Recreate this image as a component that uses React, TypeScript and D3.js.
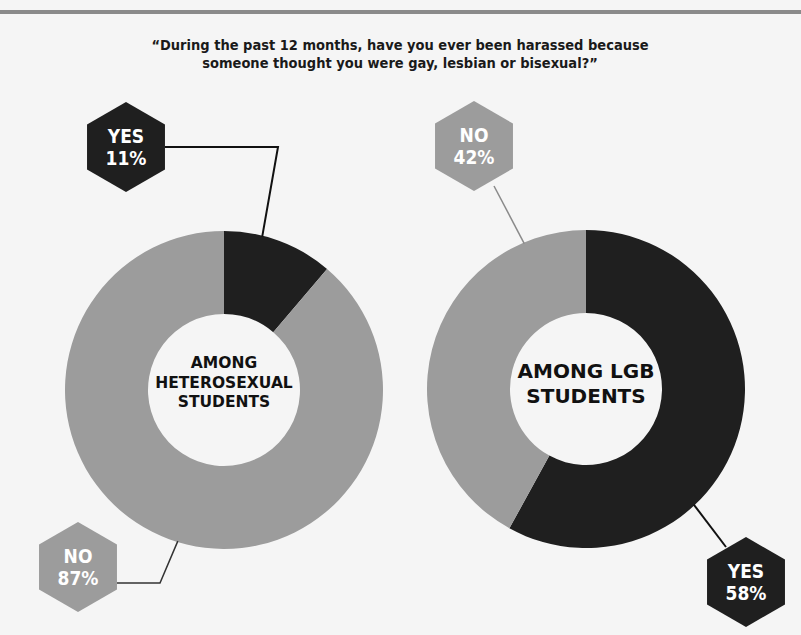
import React, { useRef, useEffect } from 'react';
import * as d3 from 'd3';

// Survey answers
const answers = ['YES', 'NO'];
const heteroValues = [11, 87];
const lgbValues = [58, 42];
const heteroLines = ['AMONG', 'HETEROSEXUAL', 'STUDENTS'];
const lgbLines = ['AMONG LGB', 'STUDENTS'];
const titleLines = [
  '\u201CDuring the past 12 months, have you ever been harassed because',
  'someone thought you were gay, lesbian or bisexual?\u201D',
];

const DARK = '#1f1f1f';
const GREY = '#9c9c9c';
const BG = '#f5f5f5';

const App: React.FC = () => {
  const ref = useRef<SVGSVGElement>(null);

  useEffect(() => {
    const svg = d3.select(ref.current);
    svg.selectAll('*').remove();

    const W = 801;
    const H = 635;

    svg.append('rect').attr('width', W).attr('height', H).attr('fill', BG);
    // top rule
    svg.append('rect').attr('x', 0).attr('y', 10).attr('width', W).attr('height', 4).attr('fill', '#8a8a8a');

    // title
    svg.append('g')
      .selectAll('text')
      .data(titleLines)
      .join('text')
      .attr('x', 400)
      .attr('y', (d, i) => 50 + i * 18)
      .attr('text-anchor', 'middle')
      .attr('font-family', '"DejaVu Sans Condensed", "DejaVu Sans", sans-serif')
      .attr('font-weight', 'bold')
      .attr('font-size', 14.5)
      .attr('fill', '#1a1a1a')
      .text(d => d);

    const colour = d3.scaleOrdinal<string, string>().domain(answers).range([DARK, GREY]);
    const pie = d3.pie<number>().sort(null).value(d => d);
    const inner = 76;
    const outer = 159;
    const arc = d3.arc<d3.PieArcDatum<number>>().innerRadius(inner).outerRadius(outer);

    // hexagon (pointy top)
    const hexR = 45;
    const hexPoints = (cx: number, cy: number): [number, number][] =>
      d3.range(6).map(k => {
        const a = (Math.PI / 3) * k;
        return [cx + hexR * Math.sin(a), cy - hexR * Math.cos(a)];
      });

    const donuts = [
      {
        values: heteroValues, lines: heteroLines, cx: 224, cy: 390,
        fontSize: 15.5, lineGap: 19.5, firstY: 368,
        callouts: [
          { answer: 0, hx: 126, hy: 147, angle: 14, stroke: '#111', path: (a: [number, number]) => [[126 + 39, 147], [278, 147], a] },
          { answer: 1, hx: 78, hy: 567, angle: 197, stroke: '#333', path: (a: [number, number]) => [[78 + 39, 583], [160, 583], a] },
        ],
      },
      {
        values: lgbValues, lines: lgbLines, cx: 586, cy: 389,
        fontSize: 20, lineGap: 25, firstY: 378,
        callouts: [
          { answer: 0, hx: 746, hy: 582, angle: 137, stroke: '#111', path: (a: [number, number]) => [a, [726, 547]] },
          { answer: 1, hx: 474, hy: 146, angle: 337, stroke: '#8a8a8a', path: (a: [number, number]) => [[494, 186], a] },
        ],
      },
    ];

    const line = d3.line();

    donuts.forEach(dn => {
      const g = svg.append('g').attr('transform', `translate(${dn.cx},${dn.cy})`);
      g.selectAll('path')
        .data(pie(dn.values))
        .join('path')
        .attr('d', arc)
        .attr('fill', (d, i) => colour(answers[i]));

      g.selectAll('text.center')
        .data(dn.lines)
        .join('text')
        .attr('class', 'center')
        .attr('x', 0)
        .attr('y', (d, i) => dn.firstY - dn.cy + i * dn.lineGap)
        .attr('text-anchor', 'middle')
        .attr('font-family', '"DejaVu Sans", sans-serif')
        .attr('font-weight', 'bold')
        .attr('font-size', dn.fontSize)
        .attr('fill', '#111')
        .text(d => d);

      dn.callouts.forEach(c => {
        const rad = (c.angle * Math.PI) / 180;
        const anchor: [number, number] = [dn.cx + (outer - 1) * Math.sin(rad), dn.cy - (outer - 1) * Math.cos(rad)];
        svg.append('path')
          .attr('d', line(c.path(anchor) as [number, number][]))
          .attr('fill', 'none')
          .attr('stroke', c.stroke)
          .attr('stroke-width', c.answer === 0 ? 2 : 1.5);
        svg.append('path')
          .attr('d', line(hexPoints(c.hx, c.hy)) + 'Z')
          .attr('fill', colour(answers[c.answer]));
        svg.append('g')
          .selectAll('text')
          .data([answers[c.answer], `${dn.values[c.answer]}%`])
          .join('text')
          .attr('x', c.hx)
          .attr('y', (d, i) => c.hy - 4 + i * 22)
          .attr('text-anchor', 'middle')
          .attr('font-family', '"DejaVu Sans Condensed", "DejaVu Sans", sans-serif')
          .attr('font-weight', 'bold')
          .attr('font-size', 19)
          .attr('fill', '#fff')
          .text(d => d);
      });
    });
  }, []);

  return (
    <svg ref={ref} width="801" height="635" style={{ position: 'absolute', left: 0, top: 0 }}></svg>
  );
};

export default App;
